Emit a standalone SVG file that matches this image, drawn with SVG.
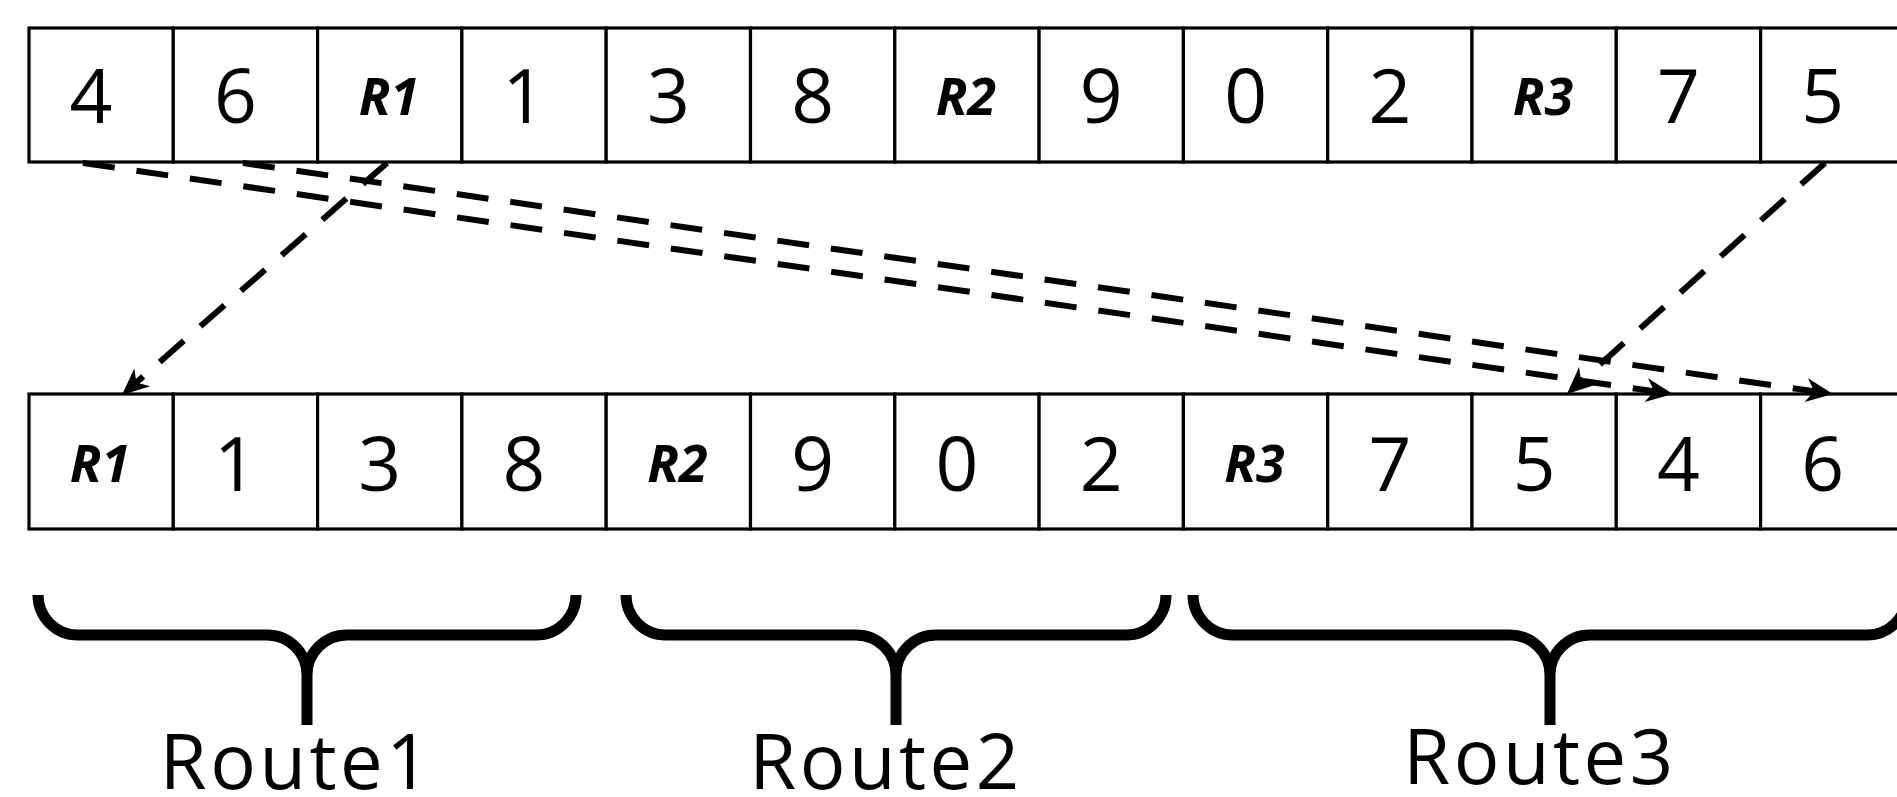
<svg xmlns="http://www.w3.org/2000/svg" width="1897" height="797" viewBox="0 0 1897 797">
  <style>
    .cell { fill: #ffffff; stroke: #000000; stroke-width: 3.2; }
    .num { font-family: "Open Sans", "Noto Sans", sans-serif; font-size: 75px; font-weight: 500; fill: #000000; text-anchor: middle; }
    .rid { font-family: "Open Sans", "Noto Sans", sans-serif; font-size: 52px; font-weight: bold; font-style: italic; fill: #000000; text-anchor: middle; }
    .link { fill: none; stroke: #000000; stroke-width: 6; stroke-dasharray: 32 22; marker-end: url(#arrow); }
    .brace { fill: none; stroke: #000000; stroke-width: 11; stroke-linecap: butt; stroke-linejoin: round; }
    .route { font-family: "Open Sans", "Noto Sans", sans-serif; font-size: 76px; font-weight: 500; letter-spacing: 3.5px; fill: #000000; text-anchor: middle; }
  </style>
  <defs>
    <marker id="arrow" markerUnits="userSpaceOnUse" viewBox="-22 -14 36 28" refX="0" refY="0" markerWidth="36" markerHeight="28" orient="auto">
      <path d="M12,0 L-15,-12 L-7,0 L-15,12 Z" fill="#000000"/>
    </marker>
  </defs>
  <rect width="1897" height="797" fill="#ffffff"/>

  <!-- top row: original sequence -->
  <g id="top-row">
    <g id="t0"><rect class="cell" x="29" y="28" width="144.3" height="134"/><text class="num" x="91" y="123">4</text></g>
    <g id="t1"><rect class="cell" x="173.3" y="28" width="144.3" height="134"/><text class="num" x="235.5" y="123">6</text></g>
    <g id="t2"><rect class="cell" x="317.6" y="28" width="144.3" height="134"/><text class="rid" x="389" y="115">R1</text></g>
    <g id="t3"><rect class="cell" x="461.9" y="28" width="144.3" height="134"/><text class="num" x="524" y="123">1</text></g>
    <g id="t4"><rect class="cell" x="606.2" y="28" width="144.3" height="134"/><text class="num" x="668.4" y="123">3</text></g>
    <g id="t5"><rect class="cell" x="750.5" y="28" width="144.3" height="134"/><text class="num" x="812.7" y="123">8</text></g>
    <g id="t6"><rect class="cell" x="894.8" y="28" width="144.3" height="134"/><text class="rid" x="966" y="115">R2</text></g>
    <g id="t7"><rect class="cell" x="1039.1" y="28" width="144.3" height="134"/><text class="num" x="1101.3" y="123">9</text></g>
    <g id="t8"><rect class="cell" x="1183.4" y="28" width="144.3" height="134"/><text class="num" x="1245.6" y="123">0</text></g>
    <g id="t9"><rect class="cell" x="1327.7" y="28" width="144.3" height="134"/><text class="num" x="1389.9" y="123">2</text></g>
    <g id="t10"><rect class="cell" x="1472" y="28" width="144.3" height="134"/><text class="rid" x="1543" y="115">R3</text></g>
    <g id="t11"><rect class="cell" x="1616.3" y="28" width="144.3" height="134"/><text class="num" x="1678.5" y="123">7</text></g>
    <g id="t12"><rect class="cell" x="1760.6" y="28" width="144.3" height="134"/><text class="num" x="1822.8" y="123">5</text></g>
  </g>

  <!-- bottom row: regrouped sequence -->
  <g id="bottom-row">
    <g id="b0"><rect class="cell" x="29" y="394" width="144.3" height="135"/><text class="rid" x="100" y="482">R1</text></g>
    <g id="b1"><rect class="cell" x="173.3" y="394" width="144.3" height="135"/><text class="num" x="235.5" y="491">1</text></g>
    <g id="b2"><rect class="cell" x="317.6" y="394" width="144.3" height="135"/><text class="num" x="379.8" y="491">3</text></g>
    <g id="b3"><rect class="cell" x="461.9" y="394" width="144.3" height="135"/><text class="num" x="524" y="491">8</text></g>
    <g id="b4"><rect class="cell" x="606.2" y="394" width="144.3" height="135"/><text class="rid" x="677.5" y="482">R2</text></g>
    <g id="b5"><rect class="cell" x="750.5" y="394" width="144.3" height="135"/><text class="num" x="812.7" y="491">9</text></g>
    <g id="b6"><rect class="cell" x="894.8" y="394" width="144.3" height="135"/><text class="num" x="957" y="491">0</text></g>
    <g id="b7"><rect class="cell" x="1039.1" y="394" width="144.3" height="135"/><text class="num" x="1101.3" y="491">2</text></g>
    <g id="b8"><rect class="cell" x="1183.4" y="394" width="144.3" height="135"/><text class="rid" x="1254.5" y="482">R3</text></g>
    <g id="b9"><rect class="cell" x="1327.7" y="394" width="144.3" height="135"/><text class="num" x="1389.9" y="491">7</text></g>
    <g id="b10"><rect class="cell" x="1472" y="394" width="144.3" height="135"/><text class="num" x="1534.2" y="491">5</text></g>
    <g id="b11"><rect class="cell" x="1616.3" y="394" width="144.3" height="135"/><text class="num" x="1678.5" y="491">4</text></g>
    <g id="b12"><rect class="cell" x="1760.6" y="394" width="144.3" height="135"/><text class="num" x="1822.8" y="491">6</text></g>
  </g>

  <!-- moves between the two rows -->
  <g id="connectors">
    <path class="link" d="M83,163 L1661.1,392.3"/>
    <path class="link" d="M243,163 L1821.1,392.3"/>
    <path class="link" d="M387,163 L131,387.1"/>
    <path class="link" d="M1825,163 L1575.9,386"/>
  </g>

  <!-- route groupings -->
  <g id="route1">
    <path class="brace" d="M38,595 A40,40 0 0 0 78,635 L267,635 A40,40 0 0 1 307,675 L307,725 M307,675 A40,40 0 0 1 347,635 L536,635 A40,40 0 0 0 576,595"/>
    <text class="route" x="296.5" y="789">Route1</text>
  </g>
  <g id="route2">
    <path class="brace" d="M626,595 A40,40 0 0 0 666,635 L856,635 A40,40 0 0 1 896,675 L896,725 M896,675 A40,40 0 0 1 936,635 L1126,635 A40,40 0 0 0 1166,595"/>
    <text class="route" x="886" y="789">Route2</text>
  </g>
  <g id="route3">
    <path class="brace" d="M1193,595 A40,40 0 0 0 1233,635 L1510,635 A40,40 0 0 1 1550,675 L1550,725 M1550,675 A40,40 0 0 1 1590,635 L1867,635 A40,40 0 0 0 1907,595"/>
    <text class="route" x="1540" y="784">Route3</text>
  </g>
</svg>
